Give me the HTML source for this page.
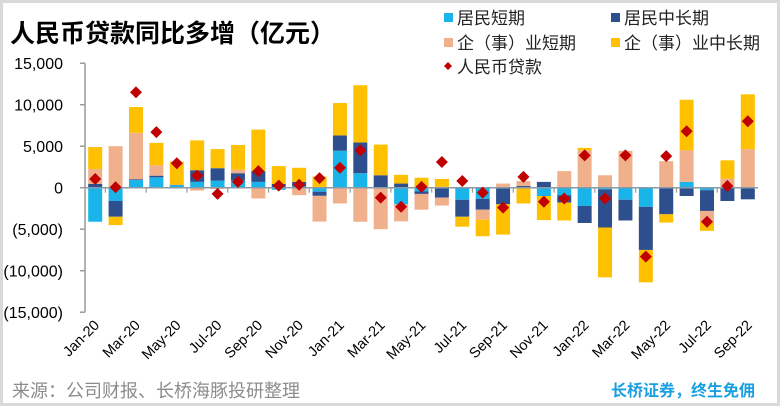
<!DOCTYPE html>
<html><head><meta charset="utf-8"><style>
html,body{margin:0;padding:0;background:#fff}
body{width:780px;height:406px;overflow:hidden;font-family:"Liberation Sans","Noto Sans CJK SC",sans-serif}
#frame{position:absolute;left:0;top:0;width:774px;height:400px;border:3px solid #d9d9d9}
</style></head><body>
<div id="frame"></div>
<svg id="chart" width="780" height="406" style="position:absolute;left:0;top:0">
<text x="10" y="42" font-size="25" font-weight="bold" fill="#000" font-family="Liberation Sans, Noto Sans CJK SC, sans-serif">人民币贷款同比多增（亿元）</text>
<g font-size="17" fill="#222" font-family="Liberation Sans, Noto Sans CJK SC, sans-serif">
<g><rect x="444" y="13" width="9" height="9" fill="#19b4ea"/><text x="457" y="24">居民短期</text></g>
<g><rect x="611" y="13" width="9" height="9" fill="#2e4f8e"/><text x="624" y="24">居民中长期</text></g>
<g><rect x="444" y="38" width="9" height="9" fill="#f1b08c"/><text x="457" y="49">企（事）业短期</text></g>
<g><rect x="611" y="38" width="9" height="9" fill="#ffc000"/><text x="624" y="49">企（事）业中长期</text></g>
<g><polygon points="448,62 452,66 448,70 444,66" fill="#c00000"/><text x="457" y="73">人民币贷款</text></g>
</g>
<g id="plot"></g>
<text x="12" y="397" font-size="18" fill="#8c8c8c" font-family="Liberation Sans, Noto Sans CJK SC, sans-serif">来源：公司财报、长桥海豚投研整理</text>
<text x="755" y="396" text-anchor="end" font-size="16" font-weight="bold" fill="#1a9fe0" font-family="Liberation Sans, Noto Sans CJK SC, sans-serif">长桥证券，终生免佣</text>
</svg>
<script>
const categories=["Jan-20","Feb-20","Mar-20","Apr-20","May-20","Jun-20","Jul-20","Aug-20","Sep-20","Oct-20","Nov-20","Dec-20","Jan-21","Feb-21","Mar-21","Apr-21","May-21","Jun-21","Jul-21","Aug-21","Sep-21","Oct-21","Nov-21","Dec-21","Jan-22","Feb-22","Mar-22","Apr-22","May-22","Jun-22","Jul-22","Aug-22","Sep-22"];
const householdShort=[-4100,-1600,920,1250,300,700,850,850,700,-250,150,-480,4450,1750,0,-2000,-450,100,-1450,-1350,-100,0,-1000,-900,-2200,-200,-1450,-2300,0,700,-300,0,0];
const householdLong=[450,-1900,100,200,50,1400,1500,900,1300,450,550,-500,1850,3700,1500,500,-300,-1200,-2050,-1300,-1900,200,700,-900,-2050,-4600,-2500,-5200,-3200,-1000,-2500,-1600,-1400];
const corpShort=[1800,5000,5600,1250,0,-350,-150,400,-1300,0,-900,-3100,-1900,-4100,-5000,-2050,-1900,-950,0,-1200,500,600,0,2000,4500,1500,4450,0,3200,3800,-1300,1100,4650];
const corpLong=[2650,-1000,3100,2700,2800,3600,2300,3000,5000,2150,1700,1350,3900,6900,3700,1050,1200,950,-1200,-2000,-3650,-1900,-2900,-2150,300,-6000,0,-3900,-1000,6100,-1100,2200,6600];
const totalLoans=[1050,50,11500,6700,2950,1450,-750,700,2000,250,350,1150,2400,4500,-1200,-2300,100,3100,800,-600,-2400,1300,-1700,-1300,3900,-1300,3900,-8300,3800,6800,-4100,200,8000];
const yTicks=[15000,10000,5000,0,-5000,-10000,-15000];
const tickLabels=["15,000","10,000","5,000","0","(5,000)","(10,000)","(15,000)"];

const NS="http://www.w3.org/2000/svg";
const plot=document.getElementById('plot');
const X0=85,X1=758,Y0=187.7,K=8.3/1000;
const slot=(X1-X0)/categories.length;
const xc=i=>X0+slot*(i+0.5);
const y=v=>Y0-v*K;
function mk(tag,attrs){const e=document.createElementNS(NS,tag);for(const k in attrs)e.setAttribute(k,attrs[k]);plot.appendChild(e);return e;}
let ax=mk('line',{x1:X0,y1:y(15000),x2:X0,y2:y(-15000),stroke:'#9a9a9a','stroke-width':1.5});


yTicks.forEach((v,i)=>{
 let t=mk('line',{x1:X0-5,y1:y(v),x2:X0,y2:y(v),stroke:'#9a9a9a','stroke-width':1.5});
 
 
 let tx=mk('text',{x:63,y:y(v)+6,'text-anchor':'end','font-size':16,fill:'#000','font-family':'Liberation Sans, sans-serif'});
 tx.textContent=tickLabels[i];
 
 
});
const series=[[householdShort,'#19b4ea','household-short'],[householdLong,'#2e4f8e','household-long'],[corpShort,'#f1b08c','corp-short'],[corpLong,'#ffc000','corp-long']];
categories.forEach((c,i)=>{
 let pos=0,neg=0;
 series.forEach(([arr,col,nm])=>{
  const v=arr[i]; if(!v) return;
  let a,b; if(v>0){a=pos;b=pos+v;pos=b;}else{a=neg;b=neg+v;neg=b;}
  let r=mk('rect',{x:xc(i)-7,y:Math.min(y(a),y(b)),width:14,height:Math.abs(y(a)-y(b)),fill:col});
  
  
 });
});
let xa=mk('line',{x1:X0,y1:Y0,x2:X1,y2:Y0,stroke:'#8a9aa6','stroke-width':1.5});


categories.forEach((c,i)=>{
 if(i%2===1){let t=mk('line',{x1:X0+slot*i,y1:Y0,x2:X0+slot*i,y2:Y0+5,stroke:'#9a9a9a','stroke-width':1.2});
 
 }
 if(i%2===0){
  const lx=xc(i)+5,ly=326;
  let tx=mk('text',{x:lx,y:ly,'text-anchor':'end','font-size':14.5,fill:'#000','font-family':'Liberation Sans, sans-serif',transform:`rotate(-45 ${lx} ${ly})`});
  tx.textContent=c;
  
  
 }
});
totalLoans.forEach((v,i)=>{
 const cx=xc(i),cy=y(v);
 let d=mk('polygon',{points:`${cx},${cy-6} ${cx+6},${cy} ${cx},${cy+6} ${cx-6},${cy}`,fill:'#c00000'});
 
 
});
</script>
</body></html>
